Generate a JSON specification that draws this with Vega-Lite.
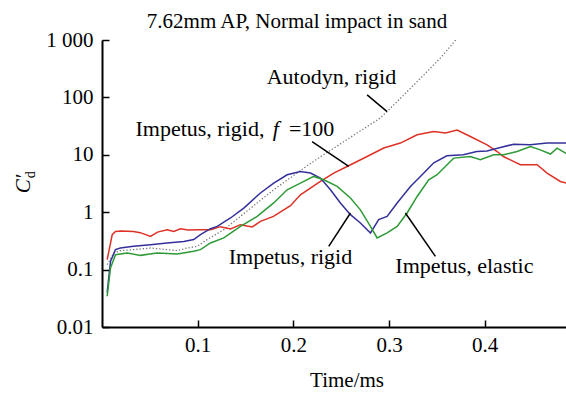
{
  "$schema": "https://vega.github.io/schema/vega-lite/v6.json",
  "width": 464,
  "height": 287,
  "autosize": {"type": "none"},
  "padding": {"left": 102, "top": 40, "right": 0, "bottom": 70},
  "background": "white",
  "config": {
    "view": {"stroke": null},
    "font": "Liberation Serif",
    "axis": {
      "grid": false,
      "domainColor": "black",
      "domainWidth": 2,
      "tickColor": "black",
      "tickWidth": 1.5,
      "tickSize": -7,
      "labelFont": "Liberation Serif",
      "labelFontSize": 21,
      "labelColor": "black",
      "titleFont": "Liberation Serif",
      "titleFontSize": 21,
      "titleFontWeight": "normal",
      "titleColor": "black"
    }
  },
  "title": {
    "text": "7.62mm AP, Normal impact in sand",
    "font": "Liberation Serif",
    "fontSize": 21,
    "fontWeight": "normal",
    "color": "black",
    "anchor": "middle",
    "dx": -37,
    "baseline": "alphabetic",
    "offset": -20
  },
  "datasets": {
    "curves": [
      {"series": "Impetus, rigid, f=100", "t": 0.0054, "cd": 0.149},
      {"series": "Impetus, rigid, f=100", "t": 0.0107, "cd": 0.406},
      {"series": "Impetus, rigid, f=100", "t": 0.0141, "cd": 0.463},
      {"series": "Impetus, rigid, f=100", "t": 0.02, "cd": 0.47},
      {"series": "Impetus, rigid, f=100", "t": 0.0329, "cd": 0.463},
      {"series": "Impetus, rigid, f=100", "t": 0.04, "cd": 0.44},
      {"series": "Impetus, rigid, f=100", "t": 0.0507, "cd": 0.379},
      {"series": "Impetus, rigid, f=100", "t": 0.058, "cd": 0.45},
      {"series": "Impetus, rigid, f=100", "t": 0.0681, "cd": 0.496},
      {"series": "Impetus, rigid, f=100", "t": 0.075, "cd": 0.46},
      {"series": "Impetus, rigid, f=100", "t": 0.082, "cd": 0.516},
      {"series": "Impetus, rigid, f=100", "t": 0.09, "cd": 0.49},
      {"series": "Impetus, rigid, f=100", "t": 0.1029, "cd": 0.496},
      {"series": "Impetus, rigid, f=100", "t": 0.1134, "cd": 0.496},
      {"series": "Impetus, rigid, f=100", "t": 0.1238, "cd": 0.56},
      {"series": "Impetus, rigid, f=100", "t": 0.1343, "cd": 0.51},
      {"series": "Impetus, rigid, f=100", "t": 0.1447, "cd": 0.606},
      {"series": "Impetus, rigid, f=100", "t": 0.157, "cd": 0.553},
      {"series": "Impetus, rigid, f=100", "t": 0.1656, "cd": 0.692},
      {"series": "Impetus, rigid, f=100", "t": 0.1792, "cd": 0.845},
      {"series": "Impetus, rigid, f=100", "t": 0.197, "cd": 1.3},
      {"series": "Impetus, rigid, f=100", "t": 0.2074, "cd": 2.01},
      {"series": "Impetus, rigid, f=100", "t": 0.2283, "cd": 3.43},
      {"series": "Impetus, rigid, f=100", "t": 0.2422, "cd": 4.81},
      {"series": "Impetus, rigid, f=100", "t": 0.2562, "cd": 6.26},
      {"series": "Impetus, rigid, f=100", "t": 0.2771, "cd": 9.34},
      {"series": "Impetus, rigid, f=100", "t": 0.2945, "cd": 13.1},
      {"series": "Impetus, rigid, f=100", "t": 0.3119, "cd": 16.0},
      {"series": "Impetus, rigid, f=100", "t": 0.3294, "cd": 22.3},
      {"series": "Impetus, rigid, f=100", "t": 0.3467, "cd": 25.4},
      {"series": "Impetus, rigid, f=100", "t": 0.359, "cd": 24.1},
      {"series": "Impetus, rigid, f=100", "t": 0.3712, "cd": 26.9},
      {"series": "Impetus, rigid, f=100", "t": 0.385, "cd": 20.8},
      {"series": "Impetus, rigid, f=100", "t": 0.4025, "cd": 14.9},
      {"series": "Impetus, rigid, f=100", "t": 0.413, "cd": 11.4},
      {"series": "Impetus, rigid, f=100", "t": 0.4195, "cd": 9.34},
      {"series": "Impetus, rigid, f=100", "t": 0.4373, "cd": 6.7},
      {"series": "Impetus, rigid, f=100", "t": 0.4548, "cd": 6.7},
      {"series": "Impetus, rigid, f=100", "t": 0.4652, "cd": 4.81},
      {"series": "Impetus, rigid, f=100", "t": 0.4791, "cd": 3.43},
      {"series": "Impetus, rigid, f=100", "t": 0.4854, "cd": 3.22},

      {"series": "Impetus, rigid", "t": 0.0054, "cd": 0.0398},
      {"series": "Impetus, rigid", "t": 0.0089, "cd": 0.139},
      {"series": "Impetus, rigid", "t": 0.0141, "cd": 0.223},
      {"series": "Impetus, rigid", "t": 0.0193, "cd": 0.238},
      {"series": "Impetus, rigid", "t": 0.0329, "cd": 0.254},
      {"series": "Impetus, rigid", "t": 0.0507, "cd": 0.272},
      {"series": "Impetus, rigid", "t": 0.0681, "cd": 0.291},
      {"series": "Impetus, rigid", "t": 0.0855, "cd": 0.31},
      {"series": "Impetus, rigid", "t": 0.0959, "cd": 0.333},
      {"series": "Impetus, rigid", "t": 0.1029, "cd": 0.406},
      {"series": "Impetus, rigid", "t": 0.1134, "cd": 0.516},
      {"series": "Impetus, rigid", "t": 0.1204, "cd": 0.566},
      {"series": "Impetus, rigid", "t": 0.1343, "cd": 0.793},
      {"series": "Impetus, rigid", "t": 0.1482, "cd": 1.18},
      {"series": "Impetus, rigid", "t": 0.1656, "cd": 2.16},
      {"series": "Impetus, rigid", "t": 0.1795, "cd": 3.22},
      {"series": "Impetus, rigid", "t": 0.1935, "cd": 4.49},
      {"series": "Impetus, rigid", "t": 0.2074, "cd": 5.12},
      {"series": "Impetus, rigid", "t": 0.2179, "cd": 4.81},
      {"series": "Impetus, rigid", "t": 0.2283, "cd": 3.94},
      {"series": "Impetus, rigid", "t": 0.2388, "cd": 2.46},
      {"series": "Impetus, rigid", "t": 0.2492, "cd": 1.45},
      {"series": "Impetus, rigid", "t": 0.2597, "cd": 0.905},
      {"series": "Impetus, rigid", "t": 0.2701, "cd": 0.649},
      {"series": "Impetus, rigid", "t": 0.2806, "cd": 0.435},
      {"series": "Impetus, rigid", "t": 0.2892, "cd": 0.741},
      {"series": "Impetus, rigid", "t": 0.298, "cd": 0.845},
      {"series": "Impetus, rigid", "t": 0.3085, "cd": 1.45},
      {"series": "Impetus, rigid", "t": 0.3224, "cd": 2.81},
      {"series": "Impetus, rigid", "t": 0.3328, "cd": 4.2},
      {"series": "Impetus, rigid", "t": 0.3415, "cd": 5.87},
      {"series": "Impetus, rigid", "t": 0.3468, "cd": 7.26},
      {"series": "Impetus, rigid", "t": 0.3605, "cd": 9.6},
      {"series": "Impetus, rigid", "t": 0.3777, "cd": 10.0},
      {"series": "Impetus, rigid", "t": 0.3917, "cd": 11.4},
      {"series": "Impetus, rigid", "t": 0.4025, "cd": 11.7},
      {"series": "Impetus, rigid", "t": 0.4164, "cd": 13.4},
      {"series": "Impetus, rigid", "t": 0.4303, "cd": 15.3},
      {"series": "Impetus, rigid", "t": 0.4477, "cd": 14.9},
      {"series": "Impetus, rigid", "t": 0.4652, "cd": 16.0},
      {"series": "Impetus, rigid", "t": 0.4854, "cd": 16.0},

      {"series": "Impetus, elastic", "t": 0.0054, "cd": 0.0343},
      {"series": "Impetus, elastic", "t": 0.0089, "cd": 0.107},
      {"series": "Impetus, elastic", "t": 0.0141, "cd": 0.182},
      {"series": "Impetus, elastic", "t": 0.0263, "cd": 0.195},
      {"series": "Impetus, elastic", "t": 0.0402, "cd": 0.177},
      {"series": "Impetus, elastic", "t": 0.0577, "cd": 0.195},
      {"series": "Impetus, elastic", "t": 0.0786, "cd": 0.187},
      {"series": "Impetus, elastic", "t": 0.0959, "cd": 0.208},
      {"series": "Impetus, elastic", "t": 0.1029, "cd": 0.223},
      {"series": "Impetus, elastic", "t": 0.1134, "cd": 0.291},
      {"series": "Impetus, elastic", "t": 0.1273, "cd": 0.356},
      {"series": "Impetus, elastic", "t": 0.1447, "cd": 0.566},
      {"series": "Impetus, elastic", "t": 0.1622, "cd": 0.845},
      {"series": "Impetus, elastic", "t": 0.1795, "cd": 1.45},
      {"series": "Impetus, elastic", "t": 0.1935, "cd": 2.46},
      {"series": "Impetus, elastic", "t": 0.2074, "cd": 3.22},
      {"series": "Impetus, elastic", "t": 0.2213, "cd": 4.2},
      {"series": "Impetus, elastic", "t": 0.2318, "cd": 3.67},
      {"series": "Impetus, elastic", "t": 0.2458, "cd": 2.81},
      {"series": "Impetus, elastic", "t": 0.2597, "cd": 1.77},
      {"series": "Impetus, elastic", "t": 0.2701, "cd": 1.1},
      {"series": "Impetus, elastic", "t": 0.2806, "cd": 0.566},
      {"series": "Impetus, elastic", "t": 0.2876, "cd": 0.356},
      {"series": "Impetus, elastic", "t": 0.298, "cd": 0.435},
      {"series": "Impetus, elastic", "t": 0.3085, "cd": 0.566},
      {"series": "Impetus, elastic", "t": 0.3189, "cd": 0.968},
      {"series": "Impetus, elastic", "t": 0.3294, "cd": 1.88},
      {"series": "Impetus, elastic", "t": 0.3415, "cd": 3.67},
      {"series": "Impetus, elastic", "t": 0.3503, "cd": 4.49},
      {"series": "Impetus, elastic", "t": 0.3676, "cd": 8.76},
      {"series": "Impetus, elastic", "t": 0.385, "cd": 9.34},
      {"series": "Impetus, elastic", "t": 0.3955, "cd": 8.19},
      {"series": "Impetus, elastic", "t": 0.4094, "cd": 10.0},
      {"series": "Impetus, elastic", "t": 0.4199, "cd": 10.0},
      {"series": "Impetus, elastic", "t": 0.4339, "cd": 11.4},
      {"series": "Impetus, elastic", "t": 0.4478, "cd": 13.9},
      {"series": "Impetus, elastic", "t": 0.4582, "cd": 12.2},
      {"series": "Impetus, elastic", "t": 0.4687, "cd": 10.3},
      {"series": "Impetus, elastic", "t": 0.4757, "cd": 13.1},
      {"series": "Impetus, elastic", "t": 0.4861, "cd": 10.3}
    ],
    "autodyn": [
      {"t": 0.0054, "cd": 0.122},
      {"t": 0.0123, "cd": 0.195},
      {"t": 0.0193, "cd": 0.214},
      {"t": 0.0332, "cd": 0.223},
      {"t": 0.0507, "cd": 0.238},
      {"t": 0.0681, "cd": 0.223},
      {"t": 0.0786, "cd": 0.214},
      {"t": 0.089, "cd": 0.238},
      {"t": 0.0995, "cd": 0.254},
      {"t": 0.1099, "cd": 0.333},
      {"t": 0.1273, "cd": 0.496},
      {"t": 0.1447, "cd": 0.845},
      {"t": 0.1622, "cd": 1.45},
      {"t": 0.1795, "cd": 2.46},
      {"t": 0.197, "cd": 3.98},
      {"t": 0.2144, "cd": 6.44},
      {"t": 0.2283, "cd": 9.23},
      {"t": 0.2492, "cd": 15.5},
      {"t": 0.2733, "cd": 28.3},
      {"t": 0.2889, "cd": 41.4},
      {"t": 0.298, "cd": 56.6},
      {"t": 0.3189, "cd": 126},
      {"t": 0.3363, "cd": 246},
      {"t": 0.3537, "cd": 486},
      {"t": 0.3662, "cd": 851},
      {"t": 0.3704, "cd": 1040}
    ],
    "leaders": [
      {"t": 0.2771, "cd": 110.4, "t2": 0.298, "cd2": 56.6},
      {"t": 0.2196, "cd": 17.0, "t2": 0.2579, "cd2": 6.27},
      {"t": 0.237, "cd": 0.254, "t2": 0.2597, "cd2": 0.968},
      {"t": 0.3485, "cd": 0.17, "t2": 0.3171, "cd2": 0.968}
    ],
    "labelsCenter": [
      {"t": 0.2398, "cd": 171.8, "label": "Autodyn, rigid"},
      {"t": 0.197, "cd": 0.127, "label": "Impetus, rigid"},
      {"t": 0.3788, "cd": 0.0869, "label": "Impetus, elastic"}
    ],
    "labelsLeft": [
      {"t": 0.035, "cd": 21.4, "label": "Impetus, rigid,"}
    ],
    "labelsItalic": [
      {"t": 0.1818, "cd": 21.4, "label": "f"}
    ],
    "labelsRight": [
      {"t": 0.2429, "cd": 21.4, "label": "=100"}
    ],
    "subscript": [
      {"t": -0.0705, "cd": 4.49, "label": "d"}
    ]
  },
  "layer": [
    {
      "data": {"name": "autodyn"},
      "mark": {"type": "line", "color": "#777777", "strokeWidth": 1.3, "strokeDash": [1.3, 2], "clip": true},
      "encoding": {
        "x": {
          "field": "t", "type": "quantitative",
          "scale": {"domain": [0, 0.485], "nice": false, "zero": false},
          "axis": {"values": [0.1, 0.2, 0.3, 0.4], "format": ".1f", "title": "Time/ms", "labelPadding": 14, "titlePadding": 14, "titleX": 244.5}
        },
        "y": {
          "field": "cd", "type": "quantitative",
          "scale": {"type": "log", "domain": [0.01, 1000], "nice": false},
          "axis": {
            "values": [0.01, 0.1, 1, 10, 100, 1000],
            "labelExpr": "datum.value >= 1000 ? '1 000' : datum.value >= 1 ? format(datum.value, 'd') : format(datum.value, '.2~f')",
            "title": "C′",
            "titleFontStyle": "italic",
            "labelPadding": 16,
            "titlePadding": 12
          }
        }
      }
    },
    {
      "data": {"name": "curves"},
      "mark": {"type": "line", "strokeWidth": 1.5, "clip": true},
      "encoding": {
        "x": {"field": "t", "type": "quantitative"},
        "y": {"field": "cd", "type": "quantitative"},
        "color": {
          "field": "series", "type": "nominal",
          "scale": {"domain": ["Impetus, rigid, f=100", "Impetus, rigid", "Impetus, elastic"], "range": ["#dd3126", "#34309a", "#2e9a35"]},
          "legend": null
        }
      }
    },
    {
      "data": {"name": "leaders"},
      "mark": {"type": "rule", "color": "black", "strokeWidth": 1.5},
      "encoding": {
        "x": {"field": "t", "type": "quantitative"},
        "y": {"field": "cd", "type": "quantitative"},
        "x2": {"field": "t2"},
        "y2": {"field": "cd2"}
      }
    },
    {
      "mark": {"type": "rule", "color": "black", "strokeWidth": 2},
      "encoding": {"y": {"datum": 1000}}
    },
    {
      "data": {"name": "labelsCenter"},
      "mark": {"type": "text", "font": "Liberation Serif", "fontSize": 22, "color": "black", "baseline": "alphabetic", "align": "center"},
      "encoding": {
        "x": {"field": "t", "type": "quantitative"},
        "y": {"field": "cd", "type": "quantitative"},
        "text": {"field": "label"}
      }
    },
    {
      "data": {"name": "labelsLeft"},
      "mark": {"type": "text", "font": "Liberation Serif", "fontSize": 22, "color": "black", "baseline": "alphabetic", "align": "left"},
      "encoding": {
        "x": {"field": "t", "type": "quantitative"},
        "y": {"field": "cd", "type": "quantitative"},
        "text": {"field": "label"}
      }
    },
    {
      "data": {"name": "labelsItalic"},
      "mark": {"type": "text", "font": "Liberation Serif", "fontSize": 22, "fontStyle": "italic", "color": "black", "baseline": "alphabetic", "align": "center"},
      "encoding": {
        "x": {"field": "t", "type": "quantitative"},
        "y": {"field": "cd", "type": "quantitative"},
        "text": {"field": "label"}
      }
    },
    {
      "data": {"name": "labelsRight"},
      "mark": {"type": "text", "font": "Liberation Serif", "fontSize": 22, "color": "black", "baseline": "alphabetic", "align": "right"},
      "encoding": {
        "x": {"field": "t", "type": "quantitative"},
        "y": {"field": "cd", "type": "quantitative"},
        "text": {"field": "label"}
      }
    },
    {
      "data": {"name": "subscript"},
      "mark": {"type": "text", "font": "Liberation Serif", "fontSize": 14, "color": "black", "baseline": "alphabetic", "align": "center", "angle": 270, "clip": false},
      "encoding": {
        "x": {"field": "t", "type": "quantitative"},
        "y": {"field": "cd", "type": "quantitative"},
        "text": {"field": "label"}
      }
    }
  ]
}
